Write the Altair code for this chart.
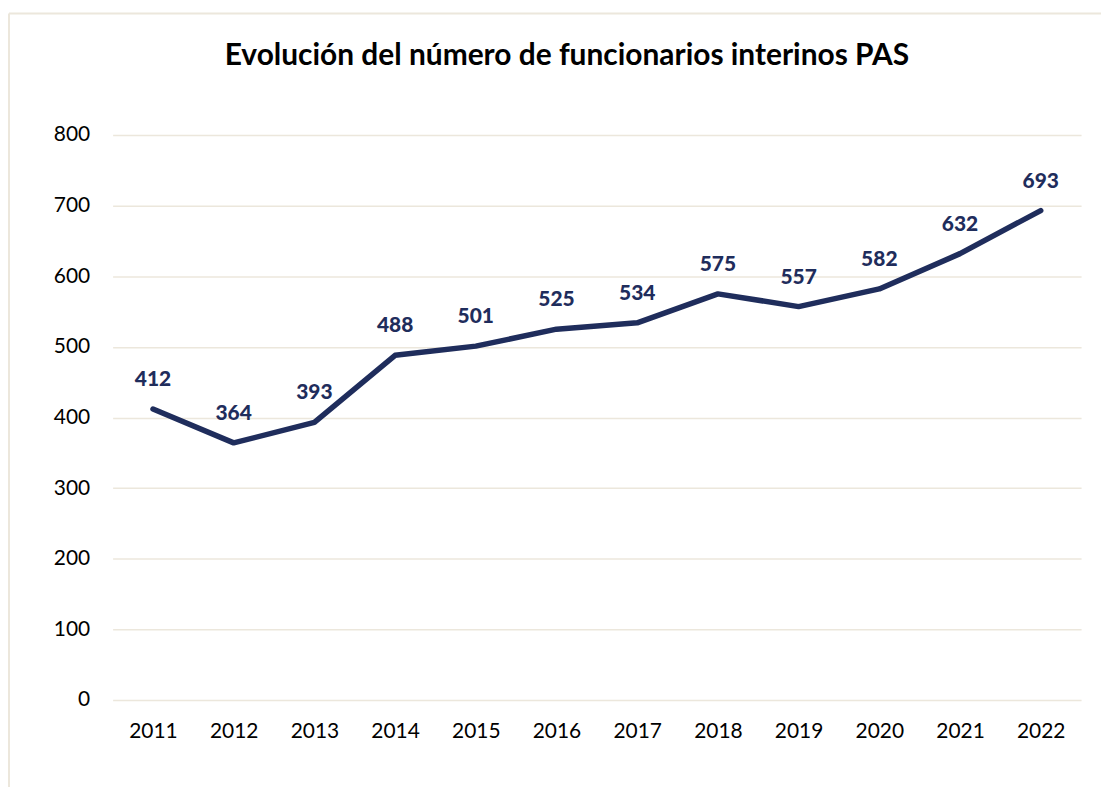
import altair as alt
import pandas as pd

years = ["2011", "2012", "2013", "2014", "2015", "2016", "2017", "2018", "2019", "2020", "2021", "2022"]
values = [412, 364, 393, 488, 501, 525, 534, 575, 557, 582, 632, 693]
y_ticks = [0, 100, 200, 300, 400, 500, 600, 700, 800]
title_text = "Evolución del número de funcionarios interinos PAS"

df = pd.DataFrame({"year": years, "value": values})
one = pd.DataFrame({"k": [0]})

NAVY = "#1F2D5C"
GRID = "#ECE7DC"
FONT = "Lato"

x_enc = alt.X("year:O", sort=years,
              scale=alt.Scale(paddingInner=0, paddingOuter=0),
              axis=alt.Axis(title=None, labelAngle=0, labelFontSize=21, labelColor="#000000",
                            labelFont=FONT, labelPadding=21, ticks=False, domain=False, grid=False))
y_enc = alt.Y("value:Q", scale=alt.Scale(domain=[0, 800], nice=False),
              axis=alt.Axis(title=None, values=y_ticks, labelFontSize=21, labelColor="#000000",
                            labelFont=FONT, labelPadding=23, ticks=False, domain=False,
                            grid=True, gridColor=GRID, gridWidth=1.5))

line = alt.Chart(df).mark_line(color=NAVY, strokeWidth=5.5, strokeCap="round", strokeJoin="round").encode(
    x=x_enc, y=y_enc)

labels = alt.Chart(df).mark_text(font=FONT, fontSize=21, fontWeight=900, color=NAVY,
                                 dy=-29, baseline="middle").encode(
    x=x_enc, y=y_enc, text="value:Q")

title = alt.Chart(one).mark_text(text=title_text, font=FONT, fontSize=30, fontWeight="bold",
                                 color="#000000", align="center", baseline="middle").encode(
    x=alt.value(456), y=alt.value(-79))

border_v = alt.Chart(one).mark_rule(color=GRID, strokeWidth=2).encode(
    x=alt.value(-104), y=alt.value(-122), y2=alt.value(700))
border_h = alt.Chart(one).mark_rule(color=GRID, strokeWidth=2).encode(
    x=alt.value(-104), x2=alt.value(1000), y=alt.value(-122))

chart = alt.layer(border_v, border_h, line, labels, title).properties(
    width=972, height=567,
    background="#FFFFFF",
    autosize=alt.AutoSizeParams(type="none"),
    padding={"left": 105, "top": 126, "right": 20, "bottom": 100},
).configure_view(strokeWidth=0, stroke="transparent")

chart.save("out.html", embed_options={"renderer": "svg", "actions": False})
